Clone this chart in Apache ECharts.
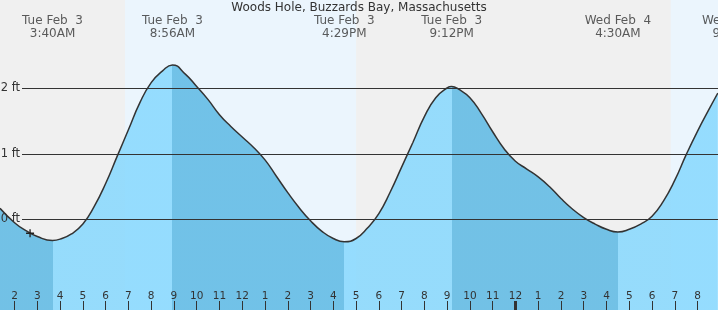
<!DOCTYPE html>
<html><head><meta charset="utf-8">
<script src="https://cdn.jsdelivr.net/npm/echarts@6/dist/echarts.min.js"></script>
<style>html,body{margin:0;padding:0;background:#f0f0f0}#c{width:718px;height:310px}</style>
</head><body><div id="c"></div>
<script>
const chartTitle = 'Woods Hole, Buzzards Bay, Massachusetts';
// hours since midnight, Tue Feb 3 (24 = midnight Wed Feb 4)
const hours  = [1.36, 2, 2.5, 3, 4, 4.5, 5, 5.5, 6, 6.5, 7, 7.5, 8, 8.5, 9.5, 10, 10.5, 11, 11.5, 12, 12.5, 13, 13.5, 14, 14.5, 15, 15.5, 16, 17, 17.5, 18, 18.5, 19, 19.5, 20, 20.5, 21, 21.5, 22, 22.5, 23, 23.5, 24, 24.5, 25, 25.5, 26, 26.5, 27, 27.5, 28, 29, 29.5, 30, 30.5, 31, 31.5, 32, 32.5, 32.89];
const levels = [0.17, -0.05, -0.17, -0.26, -0.30, -0.22, -0.07, 0.20, 0.55, 0.96, 1.37, 1.78, 2.09, 2.27, 2.22, 2.03, 1.83, 1.60, 1.42, 1.26, 1.10, 0.91, 0.66, 0.41, 0.18, -0.02, -0.18, -0.29, -0.29, -0.13, 0.09, 0.42, 0.80, 1.18, 1.57, 1.86, 2.01, 1.99, 1.86, 1.62, 1.34, 1.08, 0.89, 0.77, 0.65, 0.50, 0.32, 0.16, 0.03, -0.07, -0.15, -0.15, -0.07, 0.05, 0.28, 0.60, 0.99, 1.35, 1.68, 1.93];
const tideTimes  = [3.667, 8.933, 16.483, 21.2, 28.5, 33.65];
const tideLevels = [-0.32, 2.36, -0.34, 2.03, -0.19, null];
const tideTypes  = ['L', 'H', 'L', 'H', 'L', 'H'];
const tideDays   = ['Tue Feb  3', 'Tue Feb  3', 'Tue Feb  3', 'Tue Feb  3', 'Wed Feb  4', 'Wed Feb  4'];
const tideClock  = ['3:40AM', '8:56AM', '4:29PM', '9:12PM', '4:30AM', '9:39AM'];
const daylight   = [[6.85, 17.0], [30.82, 32.9]];
const hourTicks  = [2,3,4,5,6,7,8,9,10,11,12,13,14,15,16,17,18,19,20,21,22,23,24,25,26,27,28,29,30,31,32];
const midnightTicks = [24];
const feetLines  = [0, 1, 2];
const nowPoint   = [2.68, -0.21];

const XMIN = 1.36, XMAX = 32.897;
const YMIN = -1.3817, YMAX = 3.3511;
const LABEL_Y = 2.937;
const FONT = 'DejaVu Sans';
const DARK = 'rgba(92,185,228,0.85)';
const LIGHT = 'rgba(134,216,254,0.85)';

const pts = hours.map((h, i) => [h, levels[i]]);
tideTimes.forEach((t, i) => { if (tideLevels[i] !== null && t > XMIN && t < XMAX) pts.push([t, tideLevels[i]]); });
pts.sort((a, b) => a[0] - b[0]);
const x0 = pts[0][0], x1 = pts[pts.length - 1][0];
const stops = [];
let prevO = 0;
tideTimes.forEach((t, i) => {
  const c = tideTypes[i] === 'L' ? DARK : LIGHT;
  const o = Math.max(0, Math.min(1, (t - x0) / (x1 - x0)));
  stops.push({ offset: prevO, color: c }, { offset: o, color: c });
  prevO = o;
});

const chart = echarts.init(document.getElementById('c'));
chart.setOption({
  animation: false,
  backgroundColor: '#f0f0f0',
  title: { text: chartTitle, left: 'center', top: 2, padding: 0,
    textStyle: { fontSize: 12, fontWeight: 'normal', color: '#333', fontFamily: FONT } },
  grid: [
    { left: 0, right: 0, top: 0, bottom: 0 },
    { left: 22, right: 0, top: 0, bottom: 0 }
  ],
  xAxis: [
    { gridIndex: 0, type: 'value', min: XMIN, max: XMAX, position: 'bottom', z: 10,
      axisLine: { show: false, onZero: false }, splitLine: { show: false },
      axisTick: { show: true, inside: true, length: 9, lineStyle: { color: '#333', width: 1 }, customValues: hourTicks },
      axisLabel: { show: true, inside: true, margin: 8, customValues: hourTicks, color: '#333', fontSize: 10.5, fontFamily: FONT,
        formatter: v => String((Math.round(v) % 12) || 12) } },
    { gridIndex: 0, type: 'value', min: XMIN, max: XMAX, position: 'bottom', z: 10,
      axisLine: { show: false, onZero: false }, splitLine: { show: false }, axisLabel: { show: false },
      axisTick: { show: true, inside: true, length: 9, lineStyle: { color: '#333', width: 3 }, customValues: midnightTicks } },
    { gridIndex: 1, type: 'value', min: 0, max: 1, show: false }
  ],
  yAxis: [
    { gridIndex: 0, type: 'value', min: YMIN, max: YMAX, show: false },
    { gridIndex: 1, type: 'value', min: YMIN, max: YMAX, show: false }
  ],
  series: [
    { type: 'line', xAxisIndex: 0, yAxisIndex: 0, data: [], z: 1, silent: true,
      markArea: { silent: true, itemStyle: { color: '#ebf5fd' },
        data: daylight.map(d => [{ xAxis: d[0] }, { xAxis: d[1] }]) } },
    { type: 'line', xAxisIndex: 2, yAxisIndex: 1, data: [], z: 2, silent: true,
      markLine: { silent: true, symbol: 'none', label: { show: false },
        lineStyle: { color: '#333', width: 1, type: 'solid' },
        data: feetLines.map(v => ({ yAxis: v })) } },
    { type: 'line', xAxisIndex: 0, yAxisIndex: 0, data: pts, z: 3, smooth: 0.5,
      showSymbol: false, symbol: 'none',
      lineStyle: { color: '#333', width: 1.5 },
      areaStyle: { origin: 'start', opacity: 1,
        color: { type: 'linear', x: 0, y: 0, x2: 1, y2: 0, colorStops: stops } } },
    { type: 'line', xAxisIndex: 2, yAxisIndex: 1, data: [], z: 8, silent: true,
      markLine: { silent: true, symbol: 'none',
        lineStyle: { color: 'transparent', width: 1, type: 'solid' },
        label: { show: true, position: 'start', distance: 2, color: '#333', fontSize: 11.5, fontFamily: FONT,
          formatter: p => p.value + ' ft' },
        data: feetLines.map(v => ({ yAxis: v })) } },
    { type: 'scatter', xAxisIndex: 0, yAxisIndex: 0, z: 6, clip: false, silent: true,
      symbolSize: 1, itemStyle: { color: 'transparent' },
      data: tideTimes.map((t, i) => [t, LABEL_Y, i]),
      label: { show: true, position: 'inside', color: '#333', fontSize: 12, lineHeight: 13, fontFamily: FONT,
        formatter: p => tideDays[p.value[2]] + '\n' + tideClock[p.value[2]] } },
    { type: 'scatter', xAxisIndex: 0, yAxisIndex: 0, z: 7, silent: true,
      symbol: 'path://M3.75,0h1.5v3.75h3.75v1.5h-3.75v3.75h-1.5v-3.75h-3.75v-1.5h3.75z', symbolSize: 8,
      itemStyle: { color: '#222', opacity: 1 }, data: [nowPoint] }
  ]
});
</script></body></html>
